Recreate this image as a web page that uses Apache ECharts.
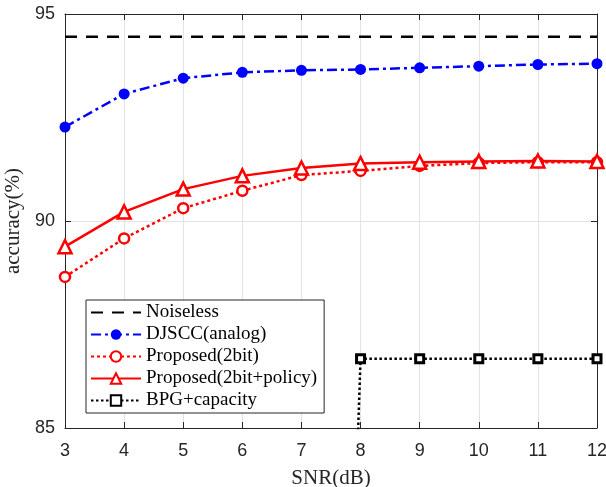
<!DOCTYPE html>
<html><head><meta charset="utf-8">
<script src="https://cdn.jsdelivr.net/npm/echarts@6/dist/echarts.min.js"></script>
<style>html,body{margin:0;padding:0;background:#fff}#c{width:606px;height:487px}</style>
</head><body><div id="c"></div>
<script>
const snr = [3,4,5,6,7,8,9,10,11,12];
const noiseless = [94.45,94.45,94.45,94.45,94.45,94.45,94.45,94.45,94.45,94.45];
const djscc = [92.27,93.07,93.45,93.59,93.64,93.66,93.70,93.74,93.78,93.80];
const proposed2bit = [88.65,89.58,90.31,90.73,91.11,91.21,91.33,91.40,91.42,91.42];
const proposedPolicy = [89.38,90.22,90.77,91.09,91.28,91.39,91.42,91.44,91.45,91.44];
const bpg = [null,null,null,null,45,86.67,86.67,86.67,86.67,86.67];
const names = ['Noiseless','DJSCC(analog)','Proposed(2bit)','Proposed(2bit+policy)','BPG+capacity'];

const pair = a => snr.map((x,i)=>[x,a[i]]);
const chart = echarts.init(document.getElementById('c'));
const tickStyle = {color:'#262626', fontFamily:'Liberation Sans, Arial, sans-serif', fontSize:18};
const nameStyle = {fontFamily:'Liberation Serif, Times New Roman, serif', fontSize:21, color:'#262626'};
const axBase = {
  axisLine:{show:true, onZero:false, lineStyle:{color:'#262626', width:1}},
  axisTick:{show:true, inside:true, length:6, lineStyle:{color:'#262626'}},
  splitLine:{show:true, lineStyle:{color:'#e3e3e3', width:1}}
};
chart.setOption({
  animation:false,
  grid:{left:65, right:9, top:14, bottom:59, show:false, containLabel:false, outerBoundsMode:'none'},
  legend:{
    orient:'vertical', left:86, top:300,
    backgroundColor:'#fff', borderColor:'#262626', borderWidth:1,
    padding:[3,7,3,4], itemGap:3, itemWidth:50, itemHeight:13,
    textStyle:{fontFamily:'Liberation Serif, Times New Roman, serif', fontSize:19, color:'#000'},
    data:[{name:names[0], itemStyle:{opacity:0}}, names[1], names[2], names[3], names[4]]
  },
  xAxis:[
    Object.assign({type:'value', min:3, max:12, interval:1, position:'bottom',
      name:'SNR(dB)', nameLocation:'middle', nameGap:40, nameTextStyle:nameStyle,
      axisLabel:Object.assign({margin:14}, tickStyle)}, axBase),
    {type:'value', min:3, max:12, interval:1, position:'top',
      axisLine:{show:true, onZero:false, lineStyle:{color:'#262626'}},
      axisTick:{show:true, inside:true, length:6, lineStyle:{color:'#262626'}},
      axisLabel:{show:false}, splitLine:{show:false}}
  ],
  yAxis:[
    Object.assign({type:'value', min:85, max:95, interval:5, position:'left',
      name:'accuracy(%)', nameLocation:'middle', nameGap:35, nameTextStyle:nameStyle,
      axisLabel:Object.assign({margin:10}, tickStyle)}, axBase),
    {type:'value', min:85, max:95, interval:5, position:'right',
      axisLine:{show:true, onZero:false, lineStyle:{color:'#262626'}},
      axisTick:{show:true, inside:true, length:6, lineStyle:{color:'#262626'}},
      axisLabel:{show:false}, splitLine:{show:false}}
  ],
  series:[
    {name:names[0], type:'line', data:pair(noiseless), symbol:'none', clip:true,
      lineStyle:{color:'#000', width:2.5, type:[12,9]}, itemStyle:{color:'#000'}},
    {name:names[1], type:'line', data:pair(djscc), symbol:'circle', symbolSize:11, clip:true,
      lineStyle:{color:'#0000ff', width:2.5, type:[10,4,3,4]}, itemStyle:{color:'#0000ff'}},
    {name:names[2], type:'line', data:pair(proposed2bit), symbol:'circle', symbolSize:10, clip:true,
      lineStyle:{color:'#ff0000', width:2.5, type:[3,3]},
      itemStyle:{color:'#fff', borderColor:'#ff0000', borderWidth:2.5}},
    {name:names[3], type:'line', data:pair(proposedPolicy), symbol:'triangle', symbolSize:13, clip:true,
      lineStyle:{color:'#ff0000', width:2.5, type:'solid'},
      itemStyle:{color:'#fff', borderColor:'#ff0000', borderWidth:2.5}},
    {name:names[4], type:'line', data:pair(bpg), symbol:'rect', symbolSize:8, clip:true, connectNulls:false,
      lineStyle:{color:'#000', width:2.5, type:[2.5,2.5]},
      itemStyle:{color:'#fff', borderColor:'#000', borderWidth:3}}
  ]
});
</script></body></html>
